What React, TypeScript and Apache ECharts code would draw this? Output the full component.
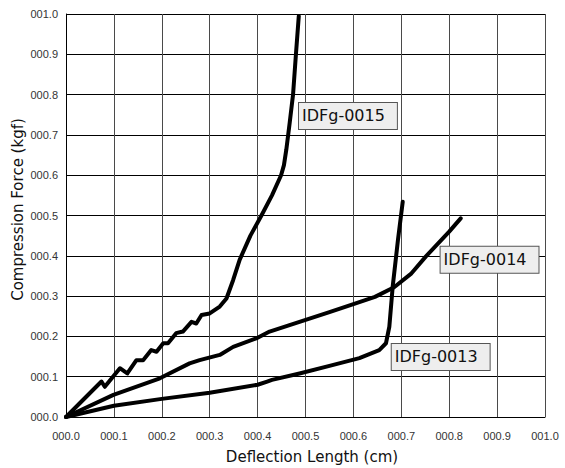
import React, { useEffect, useRef } from "react";
import * as echarts from "echarts";

const xTickLabels = ["000.0", "000.1", "000.2", "000.3", "000.4", "000.5", "000.6", "000.7", "000.8", "000.9", "001.0"];
const yTickLabels = ["000.0", "000.1", "000.2", "000.3", "000.4", "000.5", "000.6", "000.7", "000.8", "000.9", "001.0"];

const seriesNames = ["IDFg-0015", "IDFg-0014", "IDFg-0013"];

const idfg0015: [number, number][] = [
  [0, 0], [0.074, 0.088], [0.081, 0.075], [0.1125, 0.121], [0.128, 0.108], [0.147, 0.141],
  [0.161, 0.141], [0.178, 0.166], [0.189, 0.162], [0.203, 0.183], [0.213, 0.183], [0.23, 0.208],
  [0.244, 0.212], [0.262, 0.236], [0.272, 0.232], [0.283, 0.253], [0.3, 0.257], [0.321, 0.274],
  [0.335, 0.294], [0.349, 0.34], [0.3625, 0.39], [0.385, 0.45], [0.408, 0.5], [0.43, 0.55],
  [0.449, 0.6], [0.455, 0.625], [0.46, 0.664], [0.467, 0.73], [0.474, 0.8], [0.48, 0.9], [0.486, 0.995],
];

const idfg0014: [number, number][] = [
  [0, 0], [0.099, 0.055], [0.196, 0.096], [0.258, 0.133], [0.279, 0.141], [0.321, 0.154],
  [0.349, 0.174], [0.397, 0.195], [0.425, 0.212], [0.4875, 0.236], [0.55, 0.26], [0.6, 0.28],
  [0.645, 0.298], [0.685, 0.322], [0.72, 0.355], [0.751, 0.398], [0.8, 0.46], [0.824, 0.493],
];

const idfg0013: [number, number][] = [
  [0, 0], [0.1, 0.028], [0.2, 0.045], [0.3, 0.06], [0.4, 0.08], [0.42, 0.088], [0.43, 0.092],
  [0.4875, 0.108], [0.55, 0.127], [0.6125, 0.146], [0.654, 0.166], [0.668, 0.183], [0.675, 0.224],
  [0.682, 0.323], [0.693, 0.439], [0.703, 0.534],
];

const labelAnchors: [number, number][] = [
  [0.4854, 0.747],
  [0.781, 0.39],
  [0.679, 0.149],
];

const allData = [idfg0015, idfg0014, idfg0013];

export default function App() {
  const ref = useRef<HTMLDivElement>(null);
  useEffect(() => {
    if (!ref.current) return;
    const chart = echarts.init(ref.current, undefined, { renderer: "svg" });
    const tickFont = { fontFamily: "Liberation Sans", fontSize: 11, color: "#333" };
    chart.setOption({
      animation: false,
      backgroundColor: "#fff",
      grid: { left: 66, right: 20, top: 14, bottom: 51, outerBoundsMode: "none", containLabel: false },
      xAxis: {
        type: "value",
        min: 0,
        max: 1,
        interval: 0.1,
        name: "Deflection Length (cm)",
        nameLocation: "middle",
        nameGap: 32,
        nameMoveOverlap: false,
        nameTextStyle: { fontFamily: "DejaVu Sans", fontSize: 15, color: "#111", padding: [0, 0, 0, 13] },
        axisLine: { show: true, lineStyle: { color: "#000", width: 1 } },
        axisTick: { show: false },
        axisLabel: {
          ...tickFont,
          margin: 13,
          formatter: (v: number) => xTickLabels[Math.round(v * 10)] ?? "",
        },
        splitLine: { show: true, lineStyle: { color: "#4a4a4a", width: 1 } },
      },
      yAxis: {
        type: "value",
        min: 0,
        max: 1,
        interval: 0.1,
        name: "Compression Force (kgf)",
        nameLocation: "middle",
        nameGap: 41,
        nameMoveOverlap: false,
        nameTextStyle: { fontFamily: "DejaVu Sans", fontSize: 15, color: "#111", padding: [0, 0, 0, 12] },
        axisLine: { show: true, lineStyle: { color: "#000", width: 1 } },
        axisTick: { show: false },
        axisLabel: {
          ...tickFont,
          margin: 8,
          formatter: (v: number) => yTickLabels[Math.round(v * 10)] ?? "",
        },
        splitLine: { show: true, lineStyle: { color: "#000", width: 1 } },
      },
      series: allData.map((d, i) => ({
        type: "line",
        name: seriesNames[i],
        data: d,
        showSymbol: false,
        symbol: "none",
        lineStyle: { color: "#000", width: 4, join: "round", cap: "round" },
        z: 3,
        markPoint: {
          symbol: "rect",
          symbolSize: 1,
          itemStyle: { color: "rgba(0,0,0,0)" },
          data: [{ coord: labelAnchors[i], value: seriesNames[i] }],
          label: {
            show: true,
            position: "right",
            distance: 0,
            formatter: seriesNames[i],
            fontFamily: "DejaVu Sans",
            fontSize: 16,
            lineHeight: 18,
            color: "#111",
            backgroundColor: "#eeeeee",
            borderColor: "#555",
            borderWidth: 1,
            padding: [4, 12, 4, 3],
          },
          z: 5,
        },
      })),
    });
    return () => chart.dispose();
  }, []);
  return (
    <div
      ref={ref}
      style={{ position: "absolute", left: 0, top: 0, width: 565, height: 468 }}
    />
  );
}
